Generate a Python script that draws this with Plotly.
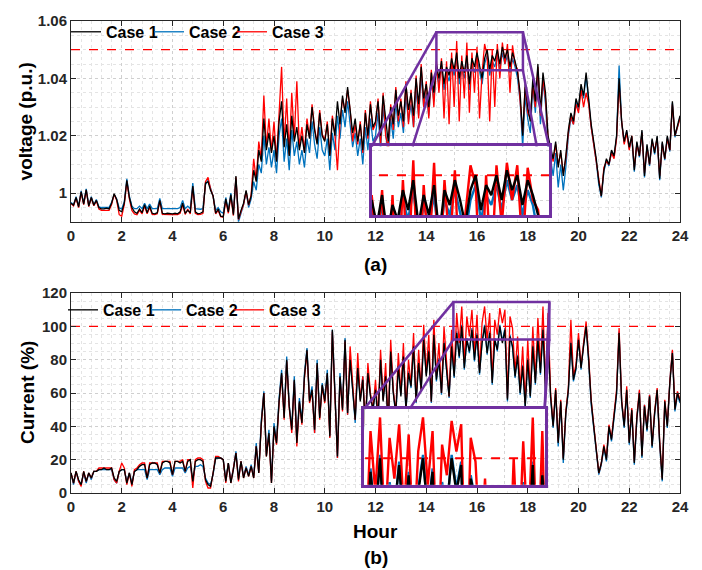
import numpy as np
import plotly.graph_objects as go

# ---------------- data ----------------
hours = np.round(np.arange(0, 24.01, 0.1), 1)  # 0.0 ... 24.0 h (241 samples)

voltage_case1 = [
    0.9965, 0.9958, 0.9985, 0.9952, 1.0005, 0.9962, 1.0012, 0.9955, 0.9985, 0.9958,
    0.9975, 0.9950, 0.9945, 0.9945, 0.9948, 0.9945, 0.9965, 0.9998, 0.9978, 0.9940,
    0.9935, 0.9965, 1.0045, 0.9985, 0.9950, 0.9935, 0.9930, 0.9945, 0.9932, 0.9960,
    0.9932, 0.9955, 0.9930, 0.9928, 0.9932, 0.9975, 0.9930, 0.9928, 0.9930, 0.9928,
    0.9928, 0.9930, 0.9928, 0.9935, 0.9965, 0.9930, 0.9940, 0.9932, 1.0025, 0.9935,
    0.9928, 0.9930, 0.9935, 1.0035, 1.0040, 1.0010, 0.9990, 0.9930, 0.9945, 0.9920,
    0.9918, 0.9980, 0.9935, 0.9995, 0.9925, 1.0060, 0.9910, 0.9940, 0.9965, 1.0010,
    0.9960, 0.9990, 1.0080, 1.0040, 1.0150, 1.0110, 1.0260, 1.0150, 1.0210, 1.0140,
    1.0200, 1.0110, 1.0250, 1.0320, 1.0160, 1.0240, 1.0130, 1.0270, 1.0180, 1.0230,
    1.0150, 1.0200, 1.0140, 1.0240, 1.0190, 1.0300, 1.0220, 1.0170, 1.0280, 1.0200,
    1.0180, 1.0240, 1.0130, 1.0260, 1.0200, 1.0320, 1.0240, 1.0340, 1.0280, 1.0370,
    1.0300, 1.0210, 1.0260, 1.0180, 1.0240, 1.0150, 1.0280, 1.0200, 1.0310, 1.0230,
    1.0250, 1.0320, 1.0200, 1.0340, 1.0260, 1.0180, 1.0300, 1.0240, 1.0360, 1.0270,
    1.0320, 1.0250, 1.0380, 1.0290, 1.0350, 1.0270, 1.0400, 1.0310, 1.0440, 1.0330,
    1.0380, 1.0300, 1.0420, 1.0350, 1.0450, 1.0400, 1.0460, 1.0380, 1.0440, 1.0410,
    1.0470, 1.0430, 1.0490, 1.0400, 1.0460, 1.0420, 1.0480, 1.0380, 1.0470, 1.0440,
    1.0490, 1.0450, 1.0400, 1.0470, 1.0500, 1.0430, 1.0480, 1.0460, 1.0500, 1.0450,
    1.0510, 1.0470, 1.0500, 1.0440, 1.0490, 1.0460, 1.0420, 1.0350, 1.0200, 1.0380,
    1.0300, 1.0250, 1.0400, 1.0320, 1.0450, 1.0280, 1.0420, 1.0350, 1.0200, 1.0160,
    1.0120, 1.0180, 1.0090, 1.0150, 1.0060, 1.0130, 1.0220, 1.0280, 1.0250, 1.0330,
    1.0300, 1.0380, 1.0340, 1.0420, 1.0330, 1.0240, 1.0180, 1.0120, 1.0040, 0.9990,
    1.0080, 1.0120, 1.0100, 1.0150, 1.0130, 1.0200, 1.0400, 1.0250, 1.0180, 1.0220,
    1.0160, 1.0200, 1.0080, 1.0180, 1.0130, 1.0220, 1.0060, 1.0170, 1.0100, 1.0190,
    1.0140, 1.0200, 1.0050, 1.0180, 1.0120, 1.0200, 1.0150, 1.0320, 1.0200, 1.0240,
    1.0270,
]

voltage_case2 = [
    0.9968, 0.9960, 0.9988, 0.9955, 1.0008, 0.9965, 1.0015, 0.9958, 0.9988, 0.9960,
    0.9978, 0.9952, 0.9950, 0.9950, 0.9950, 0.9950, 0.9968, 0.9995, 0.9980, 0.9948,
    0.9945, 0.9970, 1.0050, 0.9990, 0.9955, 0.9946, 0.9946, 0.9955, 0.9946, 0.9965,
    0.9946, 0.9962, 0.9946, 0.9946, 0.9946, 0.9982, 0.9946, 0.9946, 0.9946, 0.9946,
    0.9946, 0.9946, 0.9946, 0.9950, 0.9975, 0.9946, 0.9955, 0.9946, 1.0035, 0.9946,
    0.9944, 0.9944, 0.9946, 1.0030, 1.0045, 1.0015, 0.9990, 0.9940, 0.9950, 0.9935,
    0.9930, 0.9985, 0.9940, 1.0000, 0.9930, 1.0050, 0.9900, 0.9930, 0.9960, 1.0005,
    0.9950, 0.9980, 1.0040, 1.0010, 1.0100, 1.0070, 1.0200, 1.0100, 1.0160, 1.0090,
    1.0150, 1.0070, 1.0200, 1.0260, 1.0110, 1.0190, 1.0080, 1.0220, 1.0130, 1.0180,
    1.0100, 1.0150, 1.0090, 1.0190, 1.0140, 1.0250, 1.0170, 1.0120, 1.0230, 1.0150,
    1.0130, 1.0190, 1.0080, 1.0210, 1.0150, 1.0270, 1.0190, 1.0290, 1.0230, 1.0320,
    1.0250, 1.0160, 1.0210, 1.0130, 1.0190, 1.0100, 1.0230, 1.0150, 1.0260, 1.0180,
    1.0200, 1.0280, 1.0150, 1.0300, 1.0210, 1.0130, 1.0260, 1.0190, 1.0320, 1.0230,
    1.0280, 1.0210, 1.0340, 1.0250, 1.0310, 1.0230, 1.0360, 1.0270, 1.0410, 1.0300,
    1.0350, 1.0270, 1.0400, 1.0320, 1.0430, 1.0380, 1.0440, 1.0360, 1.0420, 1.0390,
    1.0450, 1.0410, 1.0470, 1.0380, 1.0440, 1.0400, 1.0460, 1.0360, 1.0450, 1.0420,
    1.0470, 1.0430, 1.0380, 1.0450, 1.0480, 1.0410, 1.0460, 1.0440, 1.0480, 1.0430,
    1.0490, 1.0450, 1.0480, 1.0420, 1.0470, 1.0440, 1.0400, 1.0320, 1.0160, 1.0340,
    1.0260, 1.0210, 1.0370, 1.0280, 1.0420, 1.0240, 1.0390, 1.0310, 1.0160, 1.0120,
    1.0060, 1.0140, 1.0020, 1.0100, 1.0010, 1.0090, 1.0200, 1.0260, 1.0240, 1.0320,
    1.0290, 1.0370, 1.0330, 1.0410, 1.0320, 1.0230, 1.0170, 1.0110, 1.0030, 0.9985,
    1.0075, 1.0115, 1.0095, 1.0145, 1.0125, 1.0195, 1.0445, 1.0245, 1.0175, 1.0215,
    1.0155, 1.0195, 1.0075, 1.0175, 1.0125, 1.0215, 1.0055, 1.0165, 1.0095, 1.0185,
    1.0135, 1.0195, 1.0045, 1.0175, 1.0115, 1.0195, 1.0145, 1.0315, 1.0195, 1.0235,
    1.0265,
]

voltage_case3 = [
    0.9963, 0.9956, 0.9983, 0.9950, 1.0003, 0.9960, 1.0010, 0.9953, 0.9983, 0.9956,
    0.9973, 0.9945, 0.9940, 0.9940, 0.9942, 0.9940, 0.9960, 0.9996, 0.9975, 0.9925,
    0.9920, 0.9960, 1.0040, 0.9980, 0.9940, 0.9928, 0.9925, 0.9940, 0.9928, 0.9955,
    0.9928, 0.9950, 0.9926, 0.9925, 0.9928, 0.9972, 0.9926, 0.9925, 0.9926, 0.9925,
    0.9925, 0.9926, 0.9925, 0.9930, 0.9960, 0.9926, 0.9945, 0.9928, 1.0020, 0.9930,
    0.9925, 0.9926, 0.9930, 1.0040, 1.0055, 1.0015, 0.9990, 0.9928, 0.9940, 0.9918,
    0.9916, 0.9975, 0.9930, 0.9990, 0.9922, 1.0055, 0.9908, 0.9935, 0.9960, 1.0005,
    0.9958, 0.9995, 1.0120, 1.0045, 1.0180, 1.0120, 1.0340, 1.0160, 1.0260, 1.0145,
    1.0250, 1.0115, 1.0300, 1.0440, 1.0170, 1.0330, 1.0135, 1.0350, 1.0190, 1.0390,
    1.0160, 1.0230, 1.0145, 1.0260, 1.0195, 1.0310, 1.0225, 1.0175, 1.0290, 1.0205,
    1.0185, 1.0250, 1.0135, 1.0270, 1.0205, 1.0080, 1.0245, 1.0330, 1.0285, 1.0360,
    1.0290, 1.0180, 1.0240, 1.0170, 1.0250, 1.0140, 1.0290, 1.0190, 1.0320, 1.0220,
    1.0240, 1.0330, 1.0170, 1.0350, 1.0200, 1.0160, 1.0310, 1.0220, 1.0370, 1.0250,
    1.0330, 1.0230, 1.0390, 1.0240, 1.0360, 1.0230, 1.0410, 1.0260, 1.0450, 1.0300,
    1.0390, 1.0260, 1.0430, 1.0300, 1.0460, 1.0350, 1.0470, 1.0260, 1.0460, 1.0240,
    1.0490, 1.0300, 1.0530, 1.0250, 1.0480, 1.0330, 1.0525, 1.0280, 1.0490, 1.0350,
    1.0510, 1.0260, 1.0420, 1.0520, 1.0480, 1.0250, 1.0500, 1.0300, 1.0520, 1.0400,
    1.0525, 1.0450, 1.0520, 1.0350, 1.0515, 1.0450, 1.0430, 1.0320, 1.0210, 1.0370,
    1.0280, 1.0260, 1.0380, 1.0300, 1.0440, 1.0270, 1.0400, 1.0330, 1.0190, 1.0150,
    1.0110, 1.0170, 1.0100, 1.0140, 1.0070, 1.0120, 1.0210, 1.0270, 1.0240, 1.0310,
    1.0280, 1.0360, 1.0300, 1.0350, 1.0310, 1.0230, 1.0170, 1.0110, 1.0050, 0.9990,
    1.0090, 1.0110, 1.0100, 1.0140, 1.0120, 1.0190, 1.0380, 1.0250, 1.0170, 1.0210,
    1.0150, 1.0200, 1.0090, 1.0170, 1.0130, 1.0210, 1.0070, 1.0160, 1.0100, 1.0180,
    1.0150, 1.0190, 1.0060, 1.0170, 1.0120, 1.0190, 1.0150, 1.0310, 1.0200, 1.0230,
    1.0260,
]

current_case1 = [
    12, 6, 13, 8, 5, 13, 7, 12, 9, 13,
    13, 14, 14, 15, 14, 14, 15, 9, 7, 13,
    14, 14, 6, 12, 5, 13, 14, 16, 17, 17,
    9, 17, 18, 18, 17, 12, 18, 19, 19, 18,
    11, 19, 19, 18, 19, 13, 19, 20, 7, 19,
    20, 20, 19, 8, 5, 4, 12, 21, 21, 21,
    20, 7, 18, 6, 14, 24, 8, 19, 9, 15,
    10, 16, 9, 28, 12, 42, 60, 22, 36, 6,
    40, 30, 55, 72, 45, 80, 52, 38, 68, 30,
    55, 42, 70, 86, 55, 62, 38, 78, 45, 65,
    55, 72, 34, 98, 60, 22, 70, 50, 92, 48,
    80, 62, 44, 75, 55, 68, 40, 72, 58, 50,
    62, 45, 80, 55, 70, 40, 85, 60, 48, 76,
    58, 82, 50, 72, 64, 88, 55, 78, 62, 92,
    70, 85, 55, 95, 68, 80, 60, 90, 75, 58,
    88, 70, 96, 82, 100, 75, 92, 85, 98, 80,
    95, 72, 90, 100, 84, 96, 66, 92, 86, 100,
    90, 98, 56, 94, 88, 70, 82, 60, 76, 52,
    80, 58, 88, 66, 92, 72, 98, 62, 95, 58,
    40, 62, 30, 55, 20, 48, 62, 90, 68, 75,
    92, 75, 88, 100, 80, 55, 40, 25, 12, 18,
    28, 20, 40, 32, 48, 60, 96, 55, 40, 62,
    30, 50, 18, 45, 60, 22, 52, 38, 58, 28,
    48, 62, 30, 8, 55, 40, 66, 84, 50, 60,
    55,
]

current_case2 = [
    12, 5, 13, 7, 5, 12, 6, 12, 8, 13,
    13, 14, 14, 14, 14, 14, 14, 8, 6, 13,
    14, 14, 7, 12, 6, 13, 14, 14, 14, 14,
    8, 14, 14, 14, 14, 11, 14, 15, 15, 15,
    10, 15, 15, 15, 15, 12, 15, 16, 8, 16,
    16, 17, 16, 9, 6, 5, 11, 21, 21, 21,
    20, 8, 18, 7, 15, 25, 9, 19, 10, 16,
    11, 17, 10, 30, 13, 44, 61, 23, 38, 7,
    42, 31, 57, 74, 46, 82, 53, 39, 70, 31,
    57, 43, 72, 87, 56, 64, 36, 80, 46, 66,
    56, 74, 35, 98, 62, 21, 72, 51, 93, 47,
    82, 63, 42, 77, 56, 70, 38, 74, 59, 49,
    63, 43, 81, 56, 71, 38, 86, 61, 46, 77,
    59, 83, 49, 73, 63, 89, 54, 79, 61, 93,
    71, 86, 54, 96, 67, 81, 59, 91, 74, 57,
    89, 69, 97, 81, 101, 74, 93, 84, 99, 79,
    96, 71, 91, 101, 83, 97, 65, 93, 85, 101,
    91, 99, 55, 95, 87, 69, 83, 59, 77, 51,
    81, 57, 89, 65, 93, 71, 99, 61, 96, 57,
    39, 61, 28, 54, 18, 47, 61, 91, 67, 74,
    93, 74, 89, 101, 79, 53, 39, 24, 11, 17,
    27, 19, 39, 31, 47, 59, 97, 54, 39, 61,
    29, 49, 17, 44, 61, 21, 53, 37, 59, 27,
    47, 61, 29, 7, 54, 39, 67, 85, 49, 59,
    54,
]

current_case3 = [
    12, 6, 13, 7, 4, 13, 7, 12, 9, 13,
    13, 15, 15, 15, 15, 15, 15, 8, 6, 13,
    18, 15, 5, 12, 4, 14, 15, 17, 18, 18,
    9, 18, 18, 18, 18, 12, 19, 19, 19, 19,
    11, 19, 19, 19, 20, 13, 20, 20, 3, 20,
    21, 21, 20, 7, 3, 3, 12, 22, 22, 21,
    20, 6, 18, 6, 14, 24, 7, 19, 9, 15,
    10, 16, 9, 28, 12, 41, 60, 22, 35, 6,
    39, 29, 54, 71, 44, 79, 51, 36, 67, 28,
    54, 41, 69, 85, 54, 61, 36, 77, 44, 64,
    54, 71, 33, 97, 59, 21, 69, 49, 91, 47,
    88, 64, 44, 84, 56, 70, 40, 78, 60, 50,
    68, 45, 86, 56, 78, 40, 92, 62, 48, 84,
    60, 90, 50, 80, 65, 96, 55, 86, 62, 101,
    72, 95, 55, 104, 70, 90, 60, 100, 80, 58,
    98, 72, 108, 90, 112, 78, 106, 94, 110, 84,
    107, 74, 102, 112, 92, 108, 68, 104, 95, 111,
    102, 110, 57, 106, 99, 72, 94, 62, 88, 54,
    92, 60, 100, 68, 105, 75, 112, 64, 108, 60,
    41, 63, 31, 56, 21, 49, 63, 104, 70, 77,
    96, 76, 90, 103, 82, 56, 41, 26, 12, 18,
    29, 21, 41, 33, 50, 62, 99, 56, 41, 64,
    31, 51, 19, 46, 62, 23, 53, 39, 59, 29,
    49, 63, 31, 9, 56, 41, 67, 86, 51, 61,
    56,
]

voltage_limit = 1.05
current_limit = 100
series_names = ["Case 1", "Case 2", "Case 3"]
x_ticks = list(range(0, 25, 2))
v_ticks = [1.0, 1.02, 1.04, 1.06]
v_ticktext = ["1", "1.02", "1.04", "1.06"]
i_ticks = [0, 20, 40, 60, 80, 100, 120]

# zoom windows (data coordinates)
v_zoom_x = [14.4, 17.81]
v_zoom_y = [1.0428, 1.0561]
i_zoom_x = [15.07, 18.85]
i_zoom_y = [92.2, 114.6]

for s in (voltage_case1, voltage_case2, voltage_case3,
          current_case1, current_case2, current_case3):
    assert len(s) == len(hours), len(s)

# ---------------- figure ----------------
FONT = "Liberation Sans, Arial, sans-serif"
PURPLE = "#7030A0"
COLORS = {"Case 1": "#000000", "Case 2": "#0072BD", "Case 3": "#FF0000"}
AX = "#262626"

fig = go.Figure()

def add_panel(xa, ya, c1, c2, c3, limit, legend, showleg, width):
    fig.add_trace(go.Scatter(x=[0, 24], y=[limit, limit], mode="lines",
                             line=dict(color="#FF0000", width=1.2 if width < 2 else 2, dash="dash"),
                             xaxis=xa, yaxis=ya, showlegend=False, hoverinfo="skip"))
    order = [("Case 2", c2, 2), ("Case 3", c3, 3), ("Case 1", c1, 1)]
    for name, vals, rank in order:
        fig.add_trace(go.Scatter(x=hours, y=vals, mode="lines", name=name,
                                 line=dict(color=COLORS[name], width=width),
                                 xaxis=xa, yaxis=ya, legend=legend,
                                 legendrank=rank, showlegend=showleg))
    if showleg:
        # invisible spacer entry so the last legend label is not clipped
        fig.add_trace(go.Scatter(x=[None], y=[None], mode="lines", name=" ",
                                 line=dict(color="rgba(0,0,0,0)", width=1),
                                 xaxis=xa, yaxis=ya, legend=legend, legendrank=4,
                                 showlegend=True, hoverinfo="skip"))

add_panel("x", "y", voltage_case1, voltage_case2, voltage_case3, voltage_limit, "legend", True, 1.3)
add_panel("x2", "y2", current_case1, current_case2, current_case3, current_limit, "legend2", True, 1.3)
add_panel("x3", "y3", voltage_case1, voltage_case2, voltage_case3, voltage_limit, "legend", False, 2.4)
add_panel("x4", "y4", current_case1, current_case2, current_case3, current_limit, "legend2", False, 2.4)

# geometry helpers (pixel -> paper)
L, R, T, B = 71, 22, 16, 77
W, H = 702, 570
PW, PH = W - L - R, H - T - B
def px(xp): return (xp - L) / PW
def py(yp): return (H - B - yp) / PH

tickfont = dict(family=FONT, size=15, color=AX, weight="bold")

def main_x(anchor, showlabels=True):
    return dict(anchor=anchor, range=[0, 24], tickvals=x_ticks, showticklabels=showlabels,
                ticks="inside", ticklen=5, tickcolor=AX, showline=True, mirror="ticks",
                linecolor=AX, linewidth=1, zeroline=False, tickfont=tickfont,
                showgrid=True, gridcolor="#cfcfcf", griddash="dot", gridwidth=1,
                minor=dict(dtick=0.4, tick0=0, showgrid=True, gridcolor="#e4e4e4",
                           griddash="dot", ticks=""))

def main_y(anchor, domain, rng, tickvals, ticktext, minor_dtick, minor_tick0):
    return dict(anchor=anchor, domain=domain, range=rng, tickvals=tickvals, ticktext=ticktext,
                ticks="inside", ticklen=5, tickcolor=AX, showline=True, mirror="ticks",
                linecolor=AX, linewidth=1, zeroline=False, tickfont=tickfont,
                showgrid=True, gridcolor="#cfcfcf", griddash="dot", gridwidth=1,
                minor=dict(dtick=minor_dtick, tick0=minor_tick0, showgrid=True,
                           gridcolor="#e4e4e4", griddash="dot", ticks=""))

def inset_axis(anchor, domain, rng, dtick):
    return dict(anchor=anchor, domain=domain, range=rng, showticklabels=False, ticks="",
                showline=True, mirror=True, linecolor=PURPLE, linewidth=2.5, zeroline=False,
                showgrid=True, gridcolor="#d6d6d6", griddash="dot", dtick=dtick)

legend_font = dict(family=FONT, size=16, weight="bold", color="#000000")
fig.update_layout(
    width=W, height=H, margin=dict(l=L, r=R, t=T, b=B),
    paper_bgcolor="white", plot_bgcolor="white",
    font=dict(family=FONT, color="#000000"),
    xaxis=main_x("y"),
    yaxis=main_y("x", [py(219), 1.0], [0.99, 1.06], v_ticks, v_ticktext, 0.005, 1.0),
    xaxis2=main_x("y2"),
    yaxis2=main_y("x2", [0.0, py(291)], [0, 120], i_ticks, [str(v) for v in i_ticks], 5, 0),
    xaxis3=inset_axis("y3", [px(371.7), px(549)], [14.4, 17.81], 1.0),
    yaxis3=inset_axis("x3", [py(212), py(142.7)], [1.042, 1.0558], 0.005),
    xaxis4=inset_axis("y4", [px(364.3), px(544.7)], [15.07, 18.85], 1.0),
    yaxis4=inset_axis("x4", [py(484.7), py(407.7)], [92.2, 114.6], 10),
    legend=dict(orientation="h", x=px(66), y=py(27), xanchor="left", yanchor="middle",
                bgcolor="rgba(255,255,255,0)", font=legend_font,
                traceorder="normal", entrywidth=38),
    legend2=dict(orientation="h", x=px(63), y=py(308), xanchor="left", yanchor="middle",
                 bgcolor="rgba(255,255,255,0)", font=legend_font,
                 traceorder="normal", entrywidth=38),
    showlegend=True,
)

def zoom_decor(xr, yr, axx, axy, connectors):
    fig.add_shape(type="rect", xref=axx, yref=axy, x0=xr[0], x1=xr[1], y0=yr[0], y1=yr[1],
                  line=dict(color=PURPLE, width=2.5), layer="above")
    for (xa0, ya0, xa1, ya1) in connectors:
        fig.add_shape(type="line", xref=axx, yref=axy, x0=xa0, y0=ya0, x1=xa1, y1=ya1,
                      line=dict(color=PURPLE, width=2.5), layer="above")

def hx(xp): return (xp - 71) / (609 / 24)
v_top = 1 + (190 - 142.7) / 58 * 0.02
zoom_decor(v_zoom_x, v_zoom_y, "x", "y", [
    (v_zoom_x[0], v_zoom_y[1], hx(371.7), v_top),
    (v_zoom_x[0], v_zoom_y[0], hx(412.5), v_top),
    (v_zoom_x[1], v_zoom_y[1], hx(549.0), v_top),
    (v_zoom_x[1], v_zoom_y[0], hx(536.7), v_top),
])
i_top = (493 - 407.7) / (202 / 120)
zoom_decor(i_zoom_x, i_zoom_y, "x2", "y2", [
    (i_zoom_x[0], i_zoom_y[1], hx(364.3), i_top),
    (i_zoom_x[0], i_zoom_y[0], hx(410.0), i_top),
    (i_zoom_x[1], i_zoom_y[1], hx(544.7), i_top),
    (i_zoom_x[1], i_zoom_y[0], hx(544.7), i_top),
])

title_font = dict(family=FONT, size=19, color="#000000", weight="bold")
def ann(text, xp, yp, angle=0):
    fig.add_annotation(text=text, xref="paper", yref="paper", x=px(xp), y=py(yp),
                       showarrow=False, textangle=angle, font=title_font,
                       xanchor="center", yanchor="middle")

ann("voltage (p.u.)", 25, 117.5, -90)
ann("Current (%)", 27, 392, -90)
ann("(a)", 375.5, 262)
ann("Hour", 375.5, 532)
ann("(b)", 375.5, 558)

fig.write_html("out.html", config={"displayModeBar": False},
               post_script="document.body.style.margin='0';document.body.style.padding='0';")
